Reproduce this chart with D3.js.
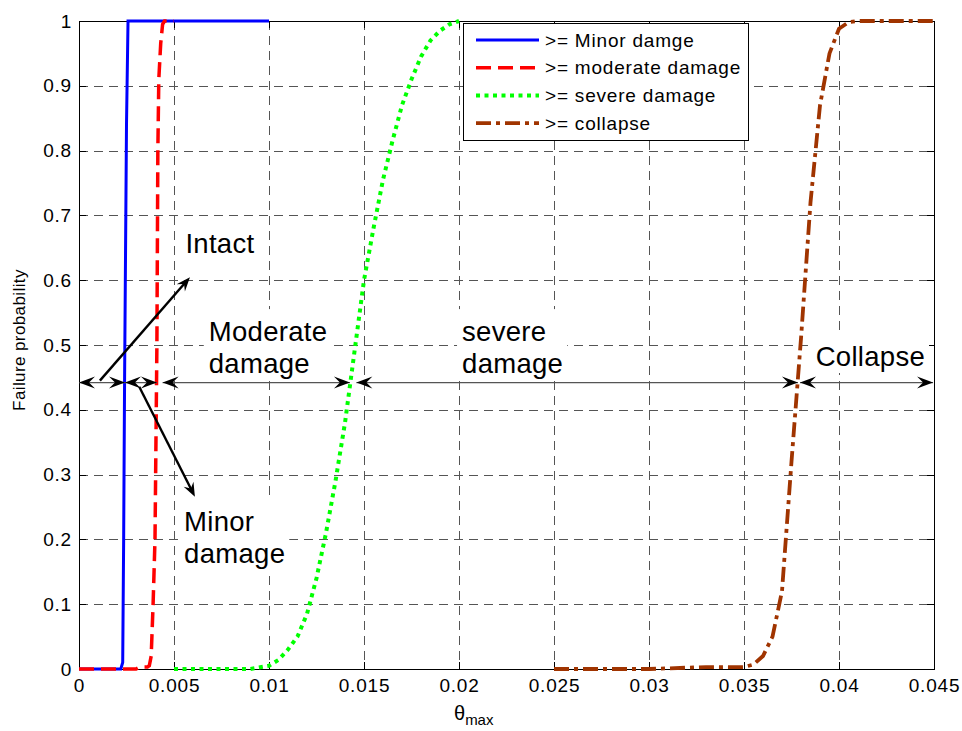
<!DOCTYPE html>
<meta charset="utf-8">
<head>
    <title>Fragility curves</title>
</head>
<script src="https://d3js.org/d3.v7.min.js"></script>
<style>
    body { margin: 0; background: #fff; }
    svg text { font-family: Arial, "Liberation Sans", Helvetica, sans-serif; fill: #000; }
    .grid line { stroke: #555; stroke-width: 1; stroke-dasharray: 9,6; shape-rendering: crispEdges; }
    .tick line { stroke: #000; shape-rendering: crispEdges; }
    .tick text { font-size: 19px; letter-spacing: 0.8px; }
    .curve { fill: none; }
    .span { stroke: #555; stroke-width: 1.4; }
    .diag { stroke: #000; stroke-width: 2.4; }
</style>
<div id="viz"></div>
<script>
// ---- data ----
var xTicks = [0, 0.005, 0.01, 0.015, 0.02, 0.025, 0.03, 0.035, 0.04, 0.045];
var yTicks = [0, 0.1, 0.2, 0.3, 0.4, 0.5, 0.6, 0.7, 0.8, 0.9, 1];

var seriesNames = ['>= Minor damge', '>= moderate damage', '>= severe damage', '>= collapse'];

var minorTheta = [0, 0.0005, 0.001, 0.0015, 0.002, 0.0022, 0.0023, 0.00235, 0.0024, 0.0025, 0.00258, 0.003, 0.004, 0.005, 0.006, 0.007, 0.008, 0.009, 0.01];
var minorProb  = [0, 0, 0, 0, 0, 0, 0.01, 0.2, 0.45, 0.84, 1, 1, 1, 1, 1, 1, 1, 1, 1];

var moderateTheta = [0, 0.001, 0.002, 0.003, 0.0032, 0.0036, 0.0037, 0.0038, 0.0039, 0.004, 0.0041, 0.00415, 0.0042, 0.0043, 0.0044, 0.0045, 0.005];
var moderateProb  = [0, 0, 0, 0, 0.003, 0.003, 0.005, 0.02, 0.1, 0.2, 0.5, 0.8, 0.91, 0.965, 0.995, 1, 1];

var severeTheta = [0.005, 0.006, 0.007, 0.008, 0.009, 0.01, 0.0105, 0.011, 0.0115, 0.012, 0.0125, 0.013, 0.0135, 0.014, 0.0145, 0.015, 0.0155, 0.016, 0.0165, 0.017, 0.0175, 0.018, 0.0185, 0.019, 0.0195, 0.02];
var severeProb  = [0, 0, 0, 0, 0, 0.005, 0.014, 0.03, 0.05, 0.085, 0.14, 0.21, 0.29, 0.38, 0.49, 0.6, 0.68, 0.755, 0.815, 0.87, 0.91, 0.945, 0.97, 0.985, 0.995, 1];

var collapseTheta = [0.025, 0.026, 0.027, 0.028, 0.029, 0.03, 0.031, 0.032, 0.033, 0.034, 0.035, 0.0355, 0.036, 0.0365, 0.037, 0.0375, 0.038, 0.0385, 0.039, 0.0395, 0.04, 0.0405, 0.041, 0.042, 0.043, 0.044, 0.045];
var collapseProb  = [0, 0, 0, 0, 0, 0, 0.001, 0.002, 0.003, 0.003, 0.003, 0.007, 0.02, 0.05, 0.12, 0.32, 0.51, 0.72, 0.87, 0.95, 0.988, 0.998, 1, 1, 1, 1, 1];

// damage-state spans (double arrows) at one probability level
var spanLevel = 0.442;
var spanStart = [0, 0.00242, 0.0044, 0.0146, 0.03795];
var spanEnd   = [0.00242, 0.0041, 0.01426, 0.03784, 0.04495];

// pointer arrows: tail -> head
var pointerFrom = [[0.0011, 0.445], [0.00317, 0.4356]];
var pointerTo   = [[0.00584, 0.6045], [0.0061, 0.266]];

// region labels
var labelLines = [['Intact'], ['Moderate', 'damage'], ['severe', 'damage'], ['Minor', 'damage'], ['Collapse']];
var labelTheta = [0.0056, 0.00683, 0.02016, 0.00553, 0.03877];
var labelProb  = [0.642, 0.506, 0.506, 0.213, 0.4676];

// ---- layout ----
var margin = {top: 21, right: 28, bottom: 62, left: 79};
var width  = 962 - margin.left - margin.right;
var height = 731 - margin.top - margin.bottom;

var root = d3.select('#viz').append('svg')
    .attr('width', 962)
    .attr('height', 731);
root.append('rect').attr('width', 962).attr('height', 731).attr('fill', '#fff');

var svg = root.append('g')
    .attr('transform', 'translate(' + margin.left + ',' + margin.top + ')');

var x = d3.scaleLinear().domain([0, 0.045]).range([0, width]);
var y = d3.scaleLinear().domain([0, 1]).range([height, 0]);

var fmt = function(d) { return String(+d.toFixed(3)); };

// grid
var grid = svg.append('g').attr('class', 'grid');
grid.selectAll('.gx').data(xTicks.slice(1, -1)).enter().append('line')
    .attr('x1', d => Math.round(x(d)) + 0.5).attr('x2', d => Math.round(x(d)) + 0.5)
    .attr('y1', 0).attr('y2', height);
grid.selectAll('.gy').data(yTicks.slice(1, -1)).enter().append('line')
    .attr('y1', d => Math.round(y(d)) + 0.5).attr('y2', d => Math.round(y(d)) + 0.5)
    .attr('x1', 0).attr('x2', width);

// axes (inward ticks)
svg.append('g')
    .attr('transform', 'translate(0,' + height + ')')
    .call(d3.axisBottom(x).tickValues(xTicks).tickSizeInner(-7).tickSizeOuter(0).tickPadding(10).tickFormat(fmt))
    .call(g => g.select('.domain').remove());
svg.append('g')
    .call(d3.axisTop(x).tickValues(xTicks).tickSizeInner(-7).tickSizeOuter(0).tickFormat(''))
    .call(g => g.select('.domain').remove());
svg.append('g')
    .call(d3.axisLeft(y).tickValues(yTicks).tickSizeInner(-7).tickSizeOuter(0).tickPadding(7).tickFormat(fmt))
    .call(g => g.select('.domain').remove());
svg.append('g')
    .attr('transform', 'translate(' + width + ',0)')
    .call(d3.axisRight(y).tickValues(yTicks).tickSizeInner(-7).tickSizeOuter(0).tickFormat(''))
    .call(g => g.select('.domain').remove());
svg.selectAll('.tick text').attr('font-family', null).attr('font-size', null);

svg.append('rect')
    .attr('x', 0.5).attr('y', 0.5)
    .attr('width', width).attr('height', height)
    .attr('fill', 'none').attr('stroke', '#000').attr('stroke-width', 1)
    .attr('shape-rendering', 'crispEdges');

// curves
var line = d3.line().x(d => x(d[0])).y(d => y(d[1]));
var curves = [
    {pts: d3.zip(minorTheta, minorProb),       color: '#0000ff', w: 3,   dash: null},
    {pts: d3.zip(moderateTheta, moderateProb), color: '#ff0000', w: 3.5, dash: '15,7'},
    {pts: d3.zip(severeTheta, severeProb),     color: '#00ff00', w: 4,   dash: '4,4.5'},
    {pts: d3.zip(collapseTheta, collapseProb), color: '#a03400', w: 3.8, dash: '15,5,4,5'}
];
curves.forEach(function(c) {
    svg.append('path')
        .datum(c.pts)
        .attr('class', 'curve')
        .attr('stroke', c.color)
        .attr('stroke-width', c.w)
        .attr('stroke-dasharray', c.dash)
        .attr('d', line);
});

// region labels with white boxes
labelLines.forEach(function(lines, i) {
    var g = svg.append('g');
    var t = g.append('text')
        .attr('x', x(labelTheta[i]))
        .attr('y', y(labelProb[i]))
        .style('font-size', '27.5px')
        .style('letter-spacing', '0.3px');
    lines.forEach(function(s, k) {
        t.append('tspan')
            .attr('x', x(labelTheta[i]))
            .attr('dy', k === 0 ? 0 : 32)
            .text(s);
    });
    var b = t.node().getBBox();
    g.insert('rect', 'text')
        .attr('x', b.x - 5).attr('y', b.y - 7)
        .attr('width', b.width + 9).attr('height', b.height + 8)
        .attr('fill', '#fff');
});

// arrow heads
function arrowHead(g, tx, ty, ang, L, hw, notch) {
    var pts = [[0, 0], [-L, -hw], [-L + notch, 0], [-L, hw]];
    g.append('path')
        .attr('d', 'M' + pts.map(p => p.join(',')).join('L') + 'Z')
        .attr('transform', 'translate(' + tx + ',' + ty + ') rotate(' + ang * 180 / Math.PI + ')')
        .attr('fill', '#000');
}

var arrows = svg.append('g');
spanStart.forEach(function(s, i) {
    var x1 = x(s), x2 = x(spanEnd[i]), yy = y(spanLevel);
    arrows.append('line').attr('class', 'span')
        .attr('x1', x1).attr('x2', x2).attr('y1', yy).attr('y2', yy);
    arrowHead(arrows, x1, yy, Math.PI, 16, 6, 6);
    arrowHead(arrows, x2, yy, 0, 16, 6, 6);
});
pointerFrom.forEach(function(p, i) {
    var x1 = x(p[0]), y1 = y(p[1]), x2 = x(pointerTo[i][0]), y2 = y(pointerTo[i][1]);
    var ang = Math.atan2(y2 - y1, x2 - x1);
    arrows.append('line').attr('class', 'diag')
        .attr('x1', x1).attr('y1', y1)
        .attr('x2', x2 - 8 * Math.cos(ang)).attr('y2', y2 - 8 * Math.sin(ang));
    arrowHead(arrows, x2, y2, ang, 14, 5.5, 5);
});

// legend
var legend = svg.append('g')
    .attr('transform', 'translate(' + (463 - margin.left) + ',' + (23 - margin.top) + ')');
legend.append('rect')
    .attr('x', 0.5).attr('y', 0.5)
    .attr('width', 285).attr('height', 117)
    .attr('fill', '#fff').attr('stroke', '#000');
seriesNames.forEach(function(name, i) {
    var ry = 17 + i * 27.7;
    legend.append('line')
        .attr('x1', 13).attr('x2', 76).attr('y1', ry).attr('y2', ry)
        .attr('stroke', curves[i].color)
        .attr('stroke-width', curves[i].w)
        .attr('stroke-dasharray', curves[i].dash);
    legend.append('text')
        .attr('x', 82).attr('y', ry).attr('dy', '0.35em')
        .style('font-size', '19px')
        .style('letter-spacing', '0.8px')
        .text(name);
});

// axis labels
var xl = svg.append('text')
    .attr('x', 454 - margin.left).attr('y', 720 - margin.top)
    .style('font-size', '20px');
xl.append('tspan').text('\u03b8');
xl.append('tspan').attr('dy', 5).style('font-size', '15px').text('max');

svg.append('text')
    .attr('transform', 'translate(' + (25 - margin.left) + ',' + (340 - margin.top) + ') rotate(-90)')
    .style('font-size', '17px')
    .style('letter-spacing', '0.4px')
    .style('text-anchor', 'middle')
    .text('Failure probability');
</script>
